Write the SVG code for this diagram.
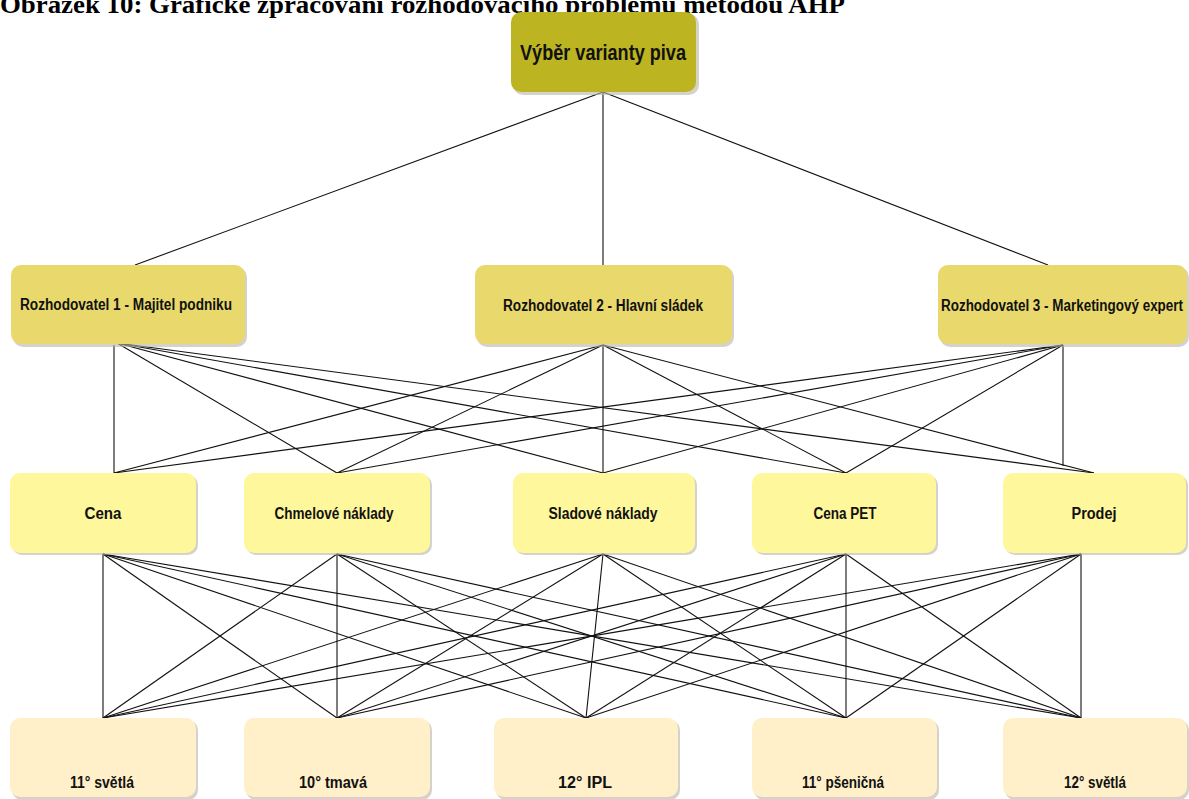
<svg xmlns="http://www.w3.org/2000/svg" width="1189" height="799" viewBox="0 0 1189 799">
<style>
.title{font-family:"Liberation Serif","Times New Roman",serif;font-weight:bold;font-size:26px;fill:#000}
.lbl{font-family:"Liberation Sans Narrow","Liberation Sans",Arial,sans-serif;font-weight:bold;fill:#111;text-anchor:middle;dominant-baseline:central}
.sh{fill:#b8b4a8;opacity:0.6}
.n0{fill:#bcb421}
.n1{fill:#e9d96c}
.n2{fill:#fff79c}
.n3{fill:#fff0c9}
.c line{stroke:#111;stroke-width:1.1}
</style>
<rect width="1189" height="799" fill="#fff"/>
<text class="title" x="0" y="13" textLength="845" lengthAdjust="spacingAndGlyphs">Obrázek 10: Grafické zpracování rozhodovacího problému metodou AHP</text>
<g class="c" id="connectors">
<line x1="603" y1="92" x2="135" y2="265"/>
<line x1="603" y1="92" x2="603" y2="265"/>
<line x1="603" y1="92" x2="1048" y2="265"/>
<line x1="114" y1="345" x2="114" y2="473"/>
<line x1="117" y1="343" x2="337" y2="473"/>
<line x1="117" y1="343" x2="603" y2="473"/>
<line x1="117" y1="343" x2="846" y2="473"/>
<line x1="117" y1="343" x2="1094" y2="473"/>
<line x1="603" y1="345" x2="114" y2="473"/>
<line x1="603" y1="345" x2="337" y2="473"/>
<line x1="603" y1="345" x2="603" y2="473"/>
<line x1="603" y1="345" x2="846" y2="473"/>
<line x1="603" y1="345" x2="1094" y2="473"/>
<line x1="1063" y1="345" x2="114" y2="473"/>
<line x1="1063" y1="345" x2="337" y2="473"/>
<line x1="1063" y1="345" x2="603" y2="473"/>
<line x1="1063" y1="345" x2="846" y2="473"/>
<line x1="1063" y1="345" x2="1063" y2="466"/>
<line x1="103" y1="554" x2="103" y2="718"/>
<line x1="103" y1="554" x2="337" y2="718"/>
<line x1="103" y1="554" x2="586" y2="718"/>
<line x1="103" y1="554" x2="846" y2="718"/>
<line x1="103" y1="554" x2="1081" y2="718"/>
<line x1="337" y1="554" x2="103" y2="718"/>
<line x1="337" y1="554" x2="337" y2="718"/>
<line x1="337" y1="554" x2="586" y2="718"/>
<line x1="337" y1="554" x2="846" y2="718"/>
<line x1="337" y1="554" x2="1081" y2="718"/>
<line x1="603" y1="554" x2="103" y2="718"/>
<line x1="603" y1="554" x2="337" y2="718"/>
<line x1="603" y1="554" x2="586" y2="718"/>
<line x1="603" y1="554" x2="846" y2="718"/>
<line x1="603" y1="554" x2="1081" y2="718"/>
<line x1="846" y1="554" x2="103" y2="718"/>
<line x1="846" y1="554" x2="337" y2="718"/>
<line x1="846" y1="554" x2="586" y2="718"/>
<line x1="846" y1="554" x2="846" y2="718"/>
<line x1="846" y1="554" x2="1081" y2="718"/>
<line x1="1081" y1="554" x2="103" y2="718"/>
<line x1="1081" y1="554" x2="337" y2="718"/>
<line x1="1081" y1="554" x2="586" y2="718"/>
<line x1="1081" y1="554" x2="846" y2="718"/>
<line x1="1081" y1="554" x2="1081" y2="718"/>
</g>
<g id="n-root"><rect class="sh" x="513" y="14" width="186" height="81" rx="10"/><rect class="n0" x="511" y="12" width="185" height="80" rx="10"/><text class="lbl" x="603" y="52" font-size="22" textLength="166" lengthAdjust="spacingAndGlyphs">Výběr varianty piva</text></g>
<g id="n-r1"><rect class="sh" x="13" y="267" width="234" height="80" rx="10"/><rect class="n1" x="11" y="265" width="234" height="79" rx="10"/><text class="lbl" x="126" y="304" font-size="16" textLength="212" lengthAdjust="spacingAndGlyphs">Rozhodovatel 1 - Majitel podniku</text></g>
<g id="n-r2"><rect class="sh" x="477" y="267" width="257" height="80" rx="10"/><rect class="n1" x="475" y="265" width="257" height="79" rx="10"/><text class="lbl" x="603" y="305" font-size="16" textLength="200" lengthAdjust="spacingAndGlyphs">Rozhodovatel 2 - Hlavní sládek</text></g>
<g id="n-r3"><rect class="sh" x="940" y="267" width="249" height="80" rx="10"/><rect class="n1" x="938" y="265" width="249" height="79" rx="10"/><text class="lbl" x="1062" y="305" font-size="16" textLength="242" lengthAdjust="spacingAndGlyphs">Rozhodovatel 3 - Marketingový expert</text></g>
<g id="n-cena"><rect class="sh" x="12" y="475" width="186" height="80" rx="10"/><rect class="n2" x="10" y="473" width="186" height="80" rx="10"/><text class="lbl" x="103" y="513" font-size="16" textLength="37" lengthAdjust="spacingAndGlyphs">Cena</text></g>
<g id="n-chmel"><rect class="sh" x="246" y="475" width="186" height="80" rx="10"/><rect class="n2" x="244" y="473" width="186" height="80" rx="10"/><text class="lbl" x="334" y="513" font-size="16" textLength="119" lengthAdjust="spacingAndGlyphs">Chmelové náklady</text></g>
<g id="n-slad"><rect class="sh" x="515" y="475" width="182" height="80" rx="10"/><rect class="n2" x="513" y="473" width="182" height="80" rx="10"/><text class="lbl" x="603" y="513" font-size="16" textLength="109" lengthAdjust="spacingAndGlyphs">Sladové náklady</text></g>
<g id="n-pet"><rect class="sh" x="754" y="475" width="184" height="80" rx="10"/><rect class="n2" x="752" y="473" width="184" height="80" rx="10"/><text class="lbl" x="845" y="513" font-size="16" textLength="63" lengthAdjust="spacingAndGlyphs">Cena PET</text></g>
<g id="n-prodej"><rect class="sh" x="1005" y="475" width="183" height="80" rx="10"/><rect class="n2" x="1003" y="473" width="183" height="80" rx="10"/><text class="lbl" x="1094" y="513" font-size="16" textLength="45" lengthAdjust="spacingAndGlyphs">Prodej</text></g>
<g id="n-v1"><rect class="sh" x="12" y="720" width="186" height="80" rx="10"/><rect class="n3" x="10" y="718" width="186" height="79" rx="10"/><text class="lbl" x="102" y="782" font-size="16" textLength="64" lengthAdjust="spacingAndGlyphs">11° světlá</text></g>
<g id="n-v2"><rect class="sh" x="246" y="720" width="186" height="80" rx="10"/><rect class="n3" x="244" y="718" width="186" height="79" rx="10"/><text class="lbl" x="333" y="782" font-size="16" textLength="68" lengthAdjust="spacingAndGlyphs">10° tmavá</text></g>
<g id="n-v3"><rect class="sh" x="496" y="720" width="184" height="80" rx="10"/><rect class="n3" x="494" y="718" width="184" height="79" rx="10"/><text class="lbl" x="585" y="782" font-size="16" textLength="54" lengthAdjust="spacingAndGlyphs">12° IPL</text></g>
<g id="n-v4"><rect class="sh" x="754" y="720" width="185" height="80" rx="10"/><rect class="n3" x="752" y="718" width="185" height="79" rx="10"/><text class="lbl" x="843" y="782" font-size="16" textLength="82" lengthAdjust="spacingAndGlyphs">11° pšeničná</text></g>
<g id="n-v5"><rect class="sh" x="1005" y="720" width="184" height="80" rx="10"/><rect class="n3" x="1003" y="718" width="184" height="79" rx="10"/><text class="lbl" x="1095" y="782" font-size="16" textLength="62" lengthAdjust="spacingAndGlyphs">12° světlá</text></g>
</svg>
